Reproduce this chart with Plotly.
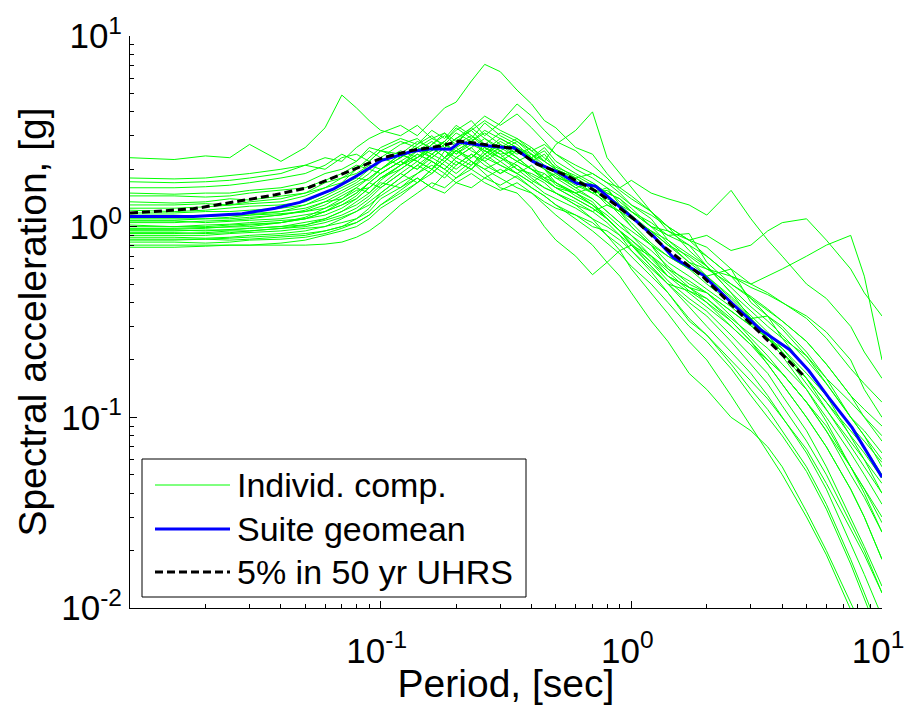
import plotly.graph_objects as go

# ---------------- data ----------------
period = [0.01, 0.015, 0.02, 0.025, 0.03, 0.04, 0.05, 0.06, 0.07, 0.08, 0.09, 0.1,
          0.12, 0.14, 0.16, 0.18, 0.2, 0.23, 0.26, 0.3, 0.35, 0.4, 0.45, 0.5, 0.6,
          0.7, 0.8, 0.9, 1.0, 1.2, 1.4, 1.7, 2.0, 2.5, 3.0, 3.5, 4.0, 5.0, 6.0, 7.5,
          8.5, 10.0]

comp01 = [2.3, 2.25, 2.35, 2.3, 2.7, 2.2, 2.6, 3.3, 4.9, 4.2, 3.6, 3.2, 3.0, 3.4, 2.9, 3.1, 2.6, 2.9, 2.4, 2.7, 2.3, 2.0, 1.9, 1.7, 1.5, 1.3, 1.1, 0.95, 0.85, 0.7, 0.6, 0.52, 0.45, 0.36, 0.3, 0.26, 0.22, 0.16, 0.12, 0.085, 0.07, 0.05]
comp02 = [1.8, 1.78, 1.8, 1.85, 1.9, 2.0, 2.1, 2.3, 2.2, 2.6, 2.9, 3.1, 3.4, 3.0, 3.6, 4.2, 4.5, 5.8, 7.1, 6.5, 5.2, 4.4, 3.6, 3.3, 2.6, 2.4, 1.9, 1.6, 1.45, 1.2, 0.95, 0.8, 0.62, 0.45, 0.33, 0.27, 0.22, 0.15, 0.11, 0.075, 0.06, 0.045]
comp03 = [1.72, 1.7, 1.72, 1.75, 1.8, 1.9, 2.1, 2.0, 2.3, 2.4, 2.2, 2.5, 2.8, 2.6, 2.9, 2.7, 3.1, 2.8, 2.6, 2.4, 2.5, 2.2, 2.4, 2.0, 1.8, 1.9, 1.7, 1.6, 1.75, 1.5, 1.4, 1.3, 1.15, 1.55, 1.1, 0.85, 0.7, 0.5, 0.42, 0.3, 0.22, 0.16]
comp04 = [1.6, 1.6, 1.62, 1.65, 1.7, 1.8, 1.9, 2.1, 2.4, 2.2, 2.6, 2.5, 2.3, 2.7, 3.0, 2.6, 2.9, 3.2, 2.7, 2.5, 2.2, 2.4, 2.0, 1.8, 1.7, 1.5, 1.6, 1.3, 1.2, 1.0, 0.95, 0.85, 0.9, 0.75, 0.8, 0.95, 1.05, 1.1, 0.85, 0.6, 0.45, 0.34]
comp05 = [1.5, 1.48, 1.5, 1.5, 1.55, 1.6, 1.7, 1.9, 2.0, 2.2, 2.5, 2.3, 2.7, 2.9, 2.5, 2.8, 3.3, 2.9, 3.5, 3.0, 2.7, 2.3, 2.5, 2.1, 1.8, 1.6, 1.4, 1.3, 1.1, 0.95, 0.8, 0.7, 0.6, 0.55, 0.5, 0.55, 0.6, 0.7, 0.8, 0.9, 0.55, 0.2]
comp06 = [1.45, 1.45, 1.43, 1.45, 1.5, 1.55, 1.6, 1.75, 1.9, 2.1, 2.0, 2.3, 2.1, 2.4, 2.2, 2.0, 2.3, 2.1, 2.5, 2.2, 1.9, 2.1, 1.8, 1.6, 1.5, 1.35, 1.1, 0.95, 0.8, 0.62, 0.5, 0.46, 0.4, 0.32, 0.25, 0.2, 0.17, 0.12, 0.085, 0.055, 0.042, 0.028]
comp07 = [1.35, 1.33, 1.35, 1.4, 1.38, 1.45, 1.5, 1.7, 1.8, 2.0, 2.2, 2.5, 2.4, 2.8, 2.6, 2.3, 2.5, 2.2, 1.9, 1.6, 1.5, 1.25, 1.0, 0.85, 0.7, 0.56, 0.65, 0.75, 0.8, 0.7, 0.55, 0.48, 0.42, 0.32, 0.25, 0.19, 0.15, 0.1, 0.07, 0.042, 0.03, 0.018]
comp08 = [1.3, 1.3, 1.32, 1.3, 1.35, 1.4, 1.5, 1.6, 1.8, 1.9, 2.1, 2.0, 2.4, 2.2, 2.6, 2.8, 2.4, 2.7, 2.5, 2.3, 2.6, 2.4, 2.2, 2.7, 3.2, 4.0, 2.3, 1.9, 1.6, 1.2, 1.0, 0.75, 0.62, 0.48, 0.38, 0.32, 0.27, 0.2, 0.15, 0.1, 0.085, 0.065]
comp09 = [1.25, 1.25, 1.27, 1.3, 1.32, 1.35, 1.45, 1.6, 1.7, 2.0, 2.3, 2.6, 2.9, 2.7, 3.2, 2.9, 3.4, 3.0, 2.7, 3.1, 2.8, 2.5, 2.2, 2.0, 1.75, 1.5, 1.35, 1.2, 1.05, 0.82, 0.7, 0.6, 0.5, 0.4, 0.33, 0.34, 0.26, 0.21, 0.16, 0.12, 0.1, 0.08]
comp10 = [1.22, 1.2, 1.22, 1.25, 1.28, 1.3, 1.35, 1.5, 1.65, 1.8, 1.75, 2.0, 2.3, 2.6, 2.4, 2.2, 2.5, 2.8, 3.2, 2.9, 2.6, 2.3, 2.0, 1.85, 1.6, 1.7, 1.5, 1.4, 1.25, 1.0, 0.9, 0.92, 0.65, 0.5, 0.42, 0.36, 0.32, 0.25, 0.19, 0.13, 0.11, 0.09]
comp11 = [1.18, 1.18, 1.2, 1.2, 1.22, 1.25, 1.3, 1.4, 1.55, 1.7, 1.9, 2.2, 2.5, 2.3, 2.7, 3.0, 2.7, 3.3, 3.8, 3.4, 3.9, 3.3, 2.8, 2.4, 2.0, 1.8, 1.6, 1.45, 1.3, 1.1, 0.85, 0.72, 0.62, 0.45, 0.36, 0.3, 0.26, 0.18, 0.13, 0.08, 0.06, 0.04]
comp12 = [1.15, 1.15, 1.13, 1.15, 1.17, 1.2, 1.25, 1.35, 1.4, 1.55, 1.6, 1.8, 2.1, 2.3, 2.5, 2.8, 3.2, 3.6, 3.0, 3.5, 4.4, 3.8, 3.2, 2.8, 2.5, 2.1, 1.8, 1.55, 1.4, 1.2, 1.0, 0.85, 0.78, 0.6, 0.5, 0.45, 0.4, 0.33, 0.26, 0.18, 0.15, 0.12]
comp13 = [1.12, 1.12, 1.14, 1.15, 1.15, 1.2, 1.3, 1.45, 1.6, 1.75, 2.0, 1.9, 2.2, 2.5, 2.3, 2.6, 2.9, 2.5, 2.3, 2.6, 2.3, 2.0, 1.8, 1.9, 1.6, 1.4, 1.2, 1.05, 0.9, 0.75, 0.62, 0.5, 0.45, 0.34, 0.26, 0.21, 0.17, 0.12, 0.085, 0.05, 0.038, 0.025]
comp14 = [1.1, 1.1, 1.1, 1.12, 1.15, 1.17, 1.2, 1.3, 1.45, 1.6, 1.8, 2.0, 2.4, 2.2, 2.0, 2.3, 2.6, 2.2, 2.0, 2.2, 2.5, 2.3, 2.6, 2.2, 1.9, 1.7, 1.5, 1.4, 1.2, 1.05, 0.9, 0.8, 0.7, 0.55, 0.48, 0.44, 0.4, 0.34, 0.28, 0.2, 0.14, 0.1]
comp15 = [1.07, 1.07, 1.05, 1.07, 1.08, 1.1, 1.15, 1.2, 1.3, 1.4, 1.6, 1.8, 2.1, 2.5, 2.8, 2.5, 2.3, 2.6, 2.2, 1.9, 2.1, 1.8, 1.6, 1.5, 1.3, 1.2, 1.3, 1.2, 1.0, 0.8, 0.6, 0.48, 0.4, 0.3, 0.24, 0.19, 0.15, 0.1, 0.07, 0.042, 0.03, 0.018]
comp16 = [1.05, 1.05, 1.07, 1.08, 1.1, 1.15, 1.2, 1.25, 1.35, 1.5, 1.7, 1.9, 2.2, 2.0, 2.4, 2.7, 2.5, 2.8, 3.1, 2.7, 2.4, 2.6, 2.2, 2.0, 1.8, 1.55, 1.3, 1.2, 1.1, 0.95, 0.85, 0.68, 0.55, 0.6, 0.4, 0.34, 0.3, 0.22, 0.16, 0.1, 0.08, 0.055]
comp17 = [1.02, 1.0, 1.02, 1.03, 1.05, 1.08, 1.1, 1.2, 1.3, 1.45, 1.7, 1.6, 1.9, 2.2, 2.0, 2.5, 2.2, 2.0, 2.4, 2.8, 2.5, 2.2, 2.0, 1.7, 1.5, 1.6, 1.35, 1.15, 1.0, 0.8, 0.7, 0.6, 0.55, 0.42, 0.33, 0.26, 0.21, 0.14, 0.095, 0.055, 0.04, 0.025]
comp18 = [1.0, 1.0, 1.0, 1.02, 1.03, 1.05, 1.1, 1.15, 1.25, 1.4, 1.6, 1.8, 2.0, 2.3, 2.6, 2.3, 2.7, 3.0, 2.6, 2.3, 2.0, 1.9, 1.75, 1.6, 1.4, 1.25, 1.1, 0.95, 0.8, 0.65, 0.52, 0.42, 0.36, 0.27, 0.21, 0.17, 0.13, 0.085, 0.055, 0.03, 0.021, 0.013]
comp19 = [0.98, 0.98, 0.99, 1.0, 1.0, 1.05, 1.12, 1.25, 1.4, 1.6, 1.5, 1.75, 2.1, 2.4, 2.2, 2.0, 2.3, 2.6, 2.9, 2.5, 2.8, 2.4, 2.1, 1.9, 1.65, 1.5, 1.55, 1.35, 1.2, 1.0, 0.82, 0.65, 0.6, 0.5, 0.43, 0.37, 0.32, 0.25, 0.19, 0.13, 0.1, 0.075]
comp20 = [0.96, 0.96, 0.95, 0.97, 0.98, 1.0, 1.05, 1.1, 1.2, 1.35, 1.5, 1.7, 1.6, 1.9, 2.1, 1.9, 1.7, 1.6, 1.8, 2.0, 1.8, 1.6, 1.45, 1.3, 1.15, 1.0, 0.95, 0.85, 0.75, 0.6, 0.5, 0.38, 0.3, 0.22, 0.17, 0.13, 0.1, 0.065, 0.042, 0.022, 0.015, 0.009]
comp21 = [0.95, 0.95, 0.96, 0.96, 0.98, 1.0, 1.02, 1.1, 1.2, 1.3, 1.45, 1.65, 2.0, 2.3, 2.7, 3.1, 2.8, 3.2, 3.6, 3.2, 2.9, 2.5, 2.7, 2.4, 2.1, 1.9, 1.7, 1.5, 1.3, 1.15, 1.0, 0.85, 0.7, 0.55, 0.42, 0.34, 0.29, 0.21, 0.15, 0.1, 0.08, 0.06]
comp22 = [0.93, 0.93, 0.92, 0.93, 0.95, 0.98, 1.02, 1.08, 1.15, 1.25, 1.4, 1.6, 1.9, 1.7, 2.0, 2.3, 2.1, 2.4, 2.2, 2.5, 2.2, 2.0, 1.8, 1.7, 1.45, 1.3, 1.15, 1.0, 0.9, 0.7, 0.58, 0.46, 0.42, 0.33, 0.27, 0.23, 0.19, 0.14, 0.1, 0.065, 0.05, 0.035]
comp23 = [0.92, 0.92, 0.93, 0.95, 0.95, 0.98, 1.0, 1.05, 1.12, 1.2, 1.35, 1.5, 1.8, 2.1, 1.9, 2.2, 2.5, 2.3, 2.7, 2.4, 2.0, 1.75, 1.6, 1.5, 1.35, 1.2, 1.05, 0.9, 0.75, 0.58, 0.45, 0.32, 0.27, 0.19, 0.14, 0.11, 0.085, 0.055, 0.035, 0.018, 0.012, 0.007]
comp24 = [0.9, 0.9, 0.9, 0.92, 0.93, 0.95, 0.98, 1.0, 1.1, 1.2, 1.3, 1.45, 1.7, 1.9, 2.2, 2.0, 1.8, 2.1, 2.4, 2.1, 1.9, 1.7, 1.9, 1.65, 1.5, 1.3, 1.1, 0.95, 0.85, 0.68, 0.55, 0.45, 0.38, 0.3, 0.24, 0.2, 0.17, 0.12, 0.09, 0.055, 0.042, 0.03]
comp25 = [0.88, 0.88, 0.87, 0.88, 0.9, 0.92, 0.95, 1.0, 1.05, 1.1, 1.2, 1.4, 1.6, 1.8, 1.6, 1.5, 1.7, 1.9, 1.7, 1.55, 1.7, 1.5, 1.35, 1.25, 1.15, 1.05, 0.9, 0.8, 0.7, 0.55, 0.45, 0.33, 0.27, 0.2, 0.155, 0.125, 0.1, 0.068, 0.045, 0.026, 0.019, 0.012]
comp26 = [0.86, 0.86, 0.86, 0.87, 0.88, 0.9, 0.92, 0.95, 1.0, 1.1, 1.25, 1.5, 1.8, 2.1, 2.4, 2.7, 2.4, 2.8, 2.5, 2.9, 2.6, 2.3, 2.0, 1.8, 1.55, 1.4, 1.2, 1.05, 0.95, 0.8, 0.65, 0.55, 0.47, 0.38, 0.31, 0.26, 0.22, 0.16, 0.12, 0.08, 0.065, 0.048]
comp27 = [0.85, 0.85, 0.86, 0.85, 0.86, 0.88, 0.9, 0.95, 1.0, 1.05, 1.15, 1.3, 1.55, 1.8, 1.6, 1.9, 2.2, 2.0, 2.3, 2.1, 1.9, 1.7, 1.5, 1.4, 1.25, 1.1, 1.0, 0.9, 0.8, 0.62, 0.5, 0.4, 0.34, 0.25, 0.19, 0.15, 0.115, 0.075, 0.05, 0.028, 0.02, 0.012]
comp28 = [0.83, 0.83, 0.82, 0.83, 0.85, 0.86, 0.88, 0.92, 0.98, 1.05, 1.15, 1.3, 1.5, 1.7, 2.0, 1.8, 2.1, 2.4, 2.1, 1.9, 2.2, 2.0, 1.75, 1.6, 1.4, 1.25, 1.1, 0.95, 0.82, 0.65, 0.55, 0.48, 0.45, 0.36, 0.3, 0.26, 0.23, 0.17, 0.13, 0.09, 0.075, 0.058]
comp29 = [0.8, 0.8, 0.8, 0.8, 0.8, 0.8, 0.8, 0.81, 0.83, 0.88, 0.95, 1.05, 1.3, 1.5, 1.7, 1.6, 1.8, 2.0, 1.8, 1.65, 1.85, 1.6, 1.45, 1.3, 1.1, 0.95, 0.82, 0.72, 0.62, 0.5, 0.4, 0.3, 0.25, 0.18, 0.13, 0.1, 0.08, 0.052, 0.033, 0.017, 0.011, 0.0065]
comp30 = [0.78, 0.78, 0.79, 0.8, 0.8, 0.82, 0.85, 0.9, 0.95, 1.0, 1.1, 1.25, 1.45, 1.7, 1.9, 2.2, 2.0, 2.3, 2.6, 2.3, 2.1, 1.85, 1.7, 1.5, 1.3, 1.1, 0.9, 0.75, 0.6, 0.45, 0.35, 0.25, 0.2, 0.13, 0.09, 0.065, 0.05, 0.03, 0.019, 0.0098, 0.0065, 0.004]
comp31 = [0.97, 0.97, 0.98, 1.0, 1.02, 1.05, 1.1, 1.2, 1.35, 1.5, 1.7, 1.9, 2.2, 2.0, 2.3, 2.1, 1.9, 2.2, 2.0, 1.8, 1.6, 1.5, 1.3, 1.15, 0.95, 0.8, 0.65, 0.55, 0.45, 0.32, 0.25, 0.17, 0.14, 0.1, 0.085, 0.07, 0.055, 0.032, 0.02, 0.0105, 0.0075, 0.0048]
comp32 = [1.08, 1.08, 1.1, 1.1, 1.12, 1.15, 1.22, 1.35, 1.5, 1.65, 1.8, 2.0, 2.3, 2.6, 2.3, 2.6, 2.9, 3.3, 2.9, 2.6, 2.9, 2.6, 2.3, 2.05, 1.85, 1.65, 1.45, 1.3, 1.15, 0.95, 0.8, 0.65, 0.55, 0.43, 0.34, 0.28, 0.23, 0.16, 0.11, 0.07, 0.055, 0.04]

components = [comp01, comp02, comp03, comp04, comp05, comp06, comp07, comp08,
              comp09, comp10, comp11, comp12, comp13, comp14, comp15, comp16,
              comp17, comp18, comp19, comp20, comp21, comp22, comp23, comp24,
              comp25, comp26, comp27, comp28, comp29, comp30, comp31, comp32]

geomean_period = [0.01, 0.0179, 0.028, 0.038, 0.0476, 0.065, 0.081, 0.101, 0.133, 0.159,
                  0.19, 0.207, 0.247, 0.32, 0.34, 0.404, 0.506, 0.605, 0.72, 0.86, 1.03,
                  1.23, 1.47, 1.93, 2.53, 3.3, 4.27, 5.1, 6.1, 7.6, 10.0]
geomean_sa = [1.13, 1.13, 1.17, 1.25, 1.34, 1.58, 1.86, 2.23, 2.48, 2.56,
              2.55, 2.77, 2.68, 2.59, 2.6, 2.2, 1.94, 1.69, 1.63, 1.34, 1.09,
              0.887, 0.689, 0.559, 0.395, 0.286, 0.227, 0.176, 0.128, 0.0883, 0.0485]

uhrs_period = [0.01, 0.0179, 0.028, 0.038, 0.052, 0.065, 0.081, 0.101, 0.133, 0.173, 0.207,
               0.247, 0.34, 0.42, 0.55, 0.72, 0.86, 1.03, 1.34, 1.93, 2.53, 3.3, 4.9]
uhrs_sa = [1.18, 1.24, 1.37, 1.47, 1.61, 1.81, 2.04, 2.29, 2.51, 2.65, 2.81,
           2.72, 2.57, 2.13, 1.86, 1.54, 1.31, 1.09, 0.79, 0.546, 0.386, 0.273, 0.164]

x_tick_vals = [0.1, 1, 10]
x_tick_text = ["10<sup>-1</sup>", "10<sup>0</sup>", "10<sup>1</sup>"]
y_tick_vals = [0.01, 0.1, 1, 10]
y_tick_text = ["10<sup>-2</sup>", "10<sup>-1</sup>", "10<sup>0</sup>", "10<sup>1</sup>"]
minor_vals = [m * d for d in (0.01, 0.1, 1) for m in range(2, 10)]

legend_labels = ["Individ. comp.", "Suite geomean", "5% in 50 yr UHRS"]

# ---------------- figure ----------------
FONT = "Liberation Sans, Arial, Helvetica, sans-serif"
GREEN = "#00ff00"
BLUE = "#0000ff"

fig = go.Figure()
for comp in components:
    fig.add_trace(go.Scatter(x=period, y=comp, mode="lines",
                             line=dict(color=GREEN, width=1),
                             showlegend=False, hoverinfo="skip"))
fig.add_trace(go.Scatter(x=geomean_period, y=geomean_sa, mode="lines",
                         line=dict(color=BLUE, width=3), showlegend=False))
fig.add_trace(go.Scatter(x=uhrs_period, y=uhrs_sa, mode="lines",
                         line=dict(color="black", width=3, dash="8px,4px"),
                         showlegend=False))

axis_common = dict(
    type="log", range=[-2, 1], showgrid=False, zeroline=False,
    showline=True, linecolor="black", linewidth=1,
    ticks="inside", ticklen=7, tickwidth=1, tickcolor="black",
    tickfont=dict(family=FONT, size=35, color="black"),
    ticklabeloverflow="allow",
    minor=dict(tickvals=minor_vals, ticks="inside", ticklen=4,
               tickwidth=1, tickcolor="black", showgrid=False),
    mirror=False,
)

fig.update_xaxes(**axis_common, tickmode="array", tickvals=x_tick_vals,
                 ticktext=x_tick_text, ticklabelstandoff=12, ticklabelshift=-4,
                 title=dict(text="Period, [sec]", standoff=2,
                            font=dict(family=FONT, size=39, color="black")))
fig.update_yaxes(**axis_common, tickmode="array", tickvals=y_tick_vals,
                 ticktext=y_tick_text,
                 title=dict(text="Spectral acceleration, [g]", standoff=2,
                            font=dict(family=FONT, size=39, color="black")))

# legend (drawn in paper coordinates)
L, R, B, T = 130, 882, 608, 36
def px(x):
    return (x - L) / (R - L)
def py(y):
    return (B - y) / (B - T)

shapes = [dict(type="rect", xref="paper", yref="paper",
               x0=px(142), x1=px(526), y0=py(597), y1=py(459),
               line=dict(color="black", width=1), fillcolor="white", layer="above")]
row_y = [485, 529, 572]
sample_styles = [dict(color=GREEN, width=1), dict(color=BLUE, width=3),
                 dict(color="black", width=3, dash="8px,4px")]
annotations = []
for yy, st, lab in zip(row_y, sample_styles, legend_labels):
    shapes.append(dict(type="line", xref="paper", yref="paper",
                       x0=px(155), x1=px(230), y0=py(yy), y1=py(yy),
                       line=st, layer="above"))
    annotations.append(dict(xref="paper", yref="paper", x=px(235), y=py(yy),
                            text=lab, showarrow=False, xanchor="left",
                            yanchor="middle",
                            font=dict(family=FONT, size=34, color="black")))

fig.update_layout(
    width=905, height=705,
    margin=dict(l=L, r=905 - R, t=T, b=705 - B, autoexpand=False),
    paper_bgcolor="white", plot_bgcolor="white",
    showlegend=False,
    shapes=shapes, annotations=annotations,
)

fig.write_html("out.html")
